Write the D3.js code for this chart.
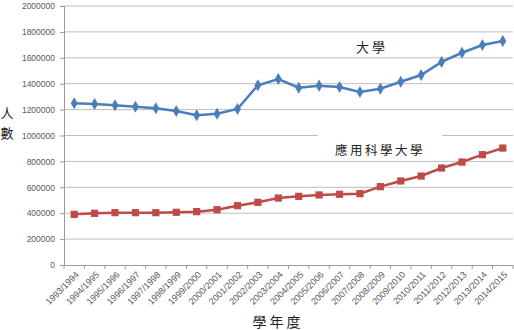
<!DOCTYPE html>
<html>
<head>
<meta charset="utf-8">
<script src="https://cdn.jsdelivr.net/npm/d3@7"></script>
<style>
  body { margin: 0; background: #fff; }
  svg { display: block; }
  .grid line { stroke: #bdbdbd; stroke-width: 1; }
  .tick text { fill: #595959; font-family: "Liberation Sans", Arial, sans-serif; }
  .cjk { font-family: "Noto Sans CJK TC", "Noto Sans CJK SC", sans-serif; fill: #222; }
</style>
</head>
<body>
<svg width="514" height="330"></svg>
<script>
const years = ['1993/1994', '1994/1995', '1995/1996', '1996/1997', '1997/1998', '1998/1999',
  '1999/2000', '2000/2001', '2001/2002', '2002/2003', '2003/2004', '2004/2005', '2005/2006',
  '2006/2007', '2007/2008', '2008/2009', '2009/2010', '2010/2011', '2011/2012', '2012/2013',
  '2013/2014', '2014/2015'];

// 大學
const university = [1249000, 1243000, 1233000, 1222000, 1210000, 1189000, 1156000, 1168000,
  1205000, 1388000, 1436000, 1369000, 1385000, 1375000, 1336000, 1361000, 1415000, 1467000,
  1568000, 1639000, 1699000, 1730000];

// 應用科學大學
const appliedSci = [391000, 399000, 404000, 404000, 404000, 407000, 412000, 427000, 458000,
  484000, 517000, 530000, 541000, 546000, 551000, 605000, 649000, 687000, 749000, 795000,
  852000, 903000];

const yTicks = [0, 200000, 400000, 600000, 800000, 1000000, 1200000, 1400000, 1600000, 1800000, 2000000];

const svg = d3.select('svg');
const plotL = 64, plotR = 513, plotT = 6, plotB = 265;

const x = d3.scaleBand().domain(years).range([plotL, plotR]);
const y = d3.scaleLinear().domain([0, 2000000]).range([plotB, plotT]);

// gridlines
svg.append('g').attr('class', 'grid')
  .selectAll('line')
  .data(yTicks.slice(1))
  .enter().append('line')
    .attr('x1', plotL).attr('x2', plotR)
    .attr('y1', d => y(d)).attr('y2', d => y(d));

// y axis
const yAxis = svg.append('g')
  .attr('transform', `translate(${plotL},0)`)
  .call(d3.axisLeft(y).tickValues(yTicks).tickFormat(d3.format('d')).tickSize(4).tickPadding(5));
yAxis.selectAll('text').style('font-size', '8.5px');

// x axis
const xAxis = svg.append('g')
  .attr('transform', `translate(0,${plotB})`)
  .call(d3.axisBottom(x).tickSize(0).tickPadding(0));
xAxis.selectAll('.tick text')
  .style('font-size', '9px')
  .attr('text-anchor', 'end')
  .attr('dy', '0.35em')
  .attr('transform', 'translate(3,8) rotate(-45)');
// boundary ticks
xAxis.selectAll('.bound')
  .data(years.concat(['_end']))
  .enter().append('line')
    .attr('class', 'bound')
    .attr('x1', (d, i) => plotL + i * x.step())
    .attr('x2', (d, i) => plotL + i * x.step())
    .attr('y1', 0).attr('y2', 4)
    .attr('stroke', '#9a9a9a');
svg.selectAll('.domain').attr('stroke', '#9a9a9a');
yAxis.selectAll('.tick line').attr('stroke', '#9a9a9a');

// white label box behind the lower series label
svg.append('rect')
  .attr('x', 318).attr('y', y(1080000))
  .attr('width', 124).attr('height', y(860000) - y(1080000))
  .attr('fill', '#fff');

const cx = d => x(d) + x.bandwidth() / 2;
const line = d3.line().x((d, i) => cx(years[i])).y(d => y(d));

function series(values, color, symbolType, size) {
  const g = svg.append('g');
  g.append('path')
    .datum(values)
    .attr('fill', 'none')
    .attr('stroke', color)
    .attr('stroke-width', 2.5)
    .attr('d', line);
  g.selectAll('path.m')
    .data(values)
    .enter().append('path')
      .attr('class', 'm')
      .attr('d', d3.symbol().type(symbolType).size(size))
      .attr('transform', (d, i) => `translate(${cx(years[i])},${y(d)})`)
      .attr('fill', color);
}
series(university, '#4a7ebb', d3.symbolDiamond, 42);
series(appliedSci, '#be4b48', d3.symbolSquare, 52);

// labels
svg.append('text').attr('class', 'cjk')
  .attr('x', 372).attr('y', 52)
  .attr('text-anchor', 'middle')
  .style('font-size', '13px').style('letter-spacing', '3px')
  .text('大學');
svg.append('text').attr('class', 'cjk')
  .attr('x', 380).attr('y', 155)
  .attr('text-anchor', 'middle')
  .style('font-size', '12.5px').style('letter-spacing', '2.5px')
  .text('應用科學大學');

svg.append('text').attr('class', 'cjk')
  .attr('x', 7).attr('y', 118)
  .attr('text-anchor', 'middle')
  .style('font-size', '13px')
  .text('人');
svg.append('text').attr('class', 'cjk')
  .attr('x', 7).attr('y', 138)
  .attr('text-anchor', 'middle')
  .style('font-size', '13px')
  .text('數');

svg.append('text').attr('class', 'cjk')
  .attr('x', 278).attr('y', 327)
  .attr('text-anchor', 'middle')
  .style('font-size', '14px').style('letter-spacing', '3px')
  .text('學年度');
</script>
</body>
</html>
